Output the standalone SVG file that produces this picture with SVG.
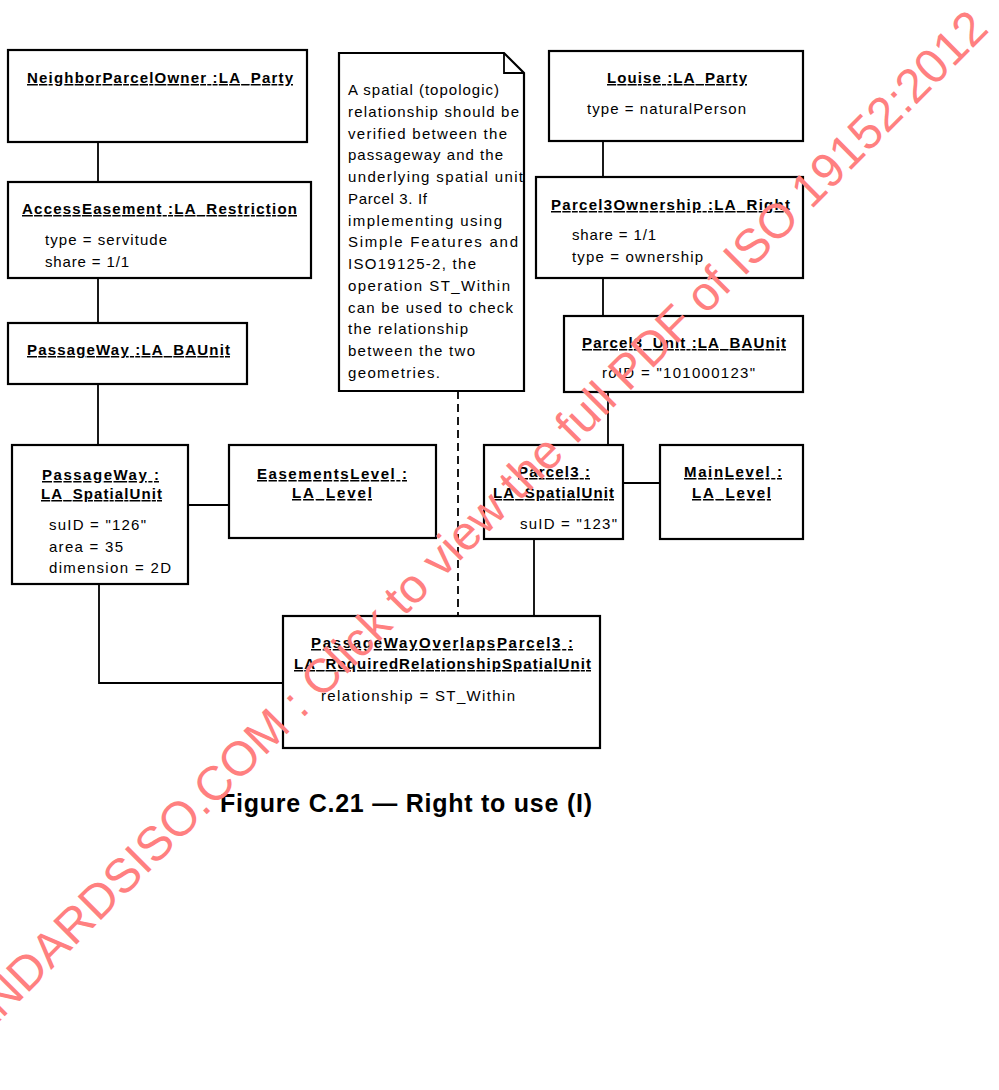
<svg xmlns="http://www.w3.org/2000/svg" width="999" height="1090" viewBox="0 0 999 1090">
<style>
  .box { fill: #ffffff; stroke: #000000; stroke-width: 2.2; }
  .conn { fill: none; stroke: #000000; stroke-width: 1.8; }
  .dash { fill: none; stroke: #000000; stroke-width: 1.8; stroke-dasharray: 8 5; }
  .t { font-family: "Liberation Sans", Arial, sans-serif; font-size: 15px; font-weight: bold; fill: #000000; text-decoration: underline; }
  .a { font-family: "Liberation Sans", Arial, sans-serif; font-size: 15px; fill: #000000; }
  .cap { font-family: "Liberation Sans", Arial, sans-serif; font-size: 25px; font-weight: bold; fill: #000000; }
  .wm { font-family: "Liberation Sans", Arial, sans-serif; font-size: 48px; fill: #ff8080; }
</style>
<rect x="0" y="0" width="999" height="1090" fill="#ffffff"/>

<g id="connectors">
  <line class="conn" x1="98" y1="142" x2="98" y2="182"/>
  <line class="conn" x1="98" y1="278" x2="98" y2="323"/>
  <line class="conn" x1="98" y1="384" x2="98" y2="445"/>
  <line class="conn" x1="188" y1="505" x2="229" y2="505"/>
  <polyline class="conn" points="99,584 99,683 283,683"/>
  <line class="dash" x1="458" y1="391" x2="458" y2="616"/>
  <line class="conn" x1="603" y1="141" x2="603" y2="177"/>
  <line class="conn" x1="603" y1="278" x2="603" y2="316"/>
  <line class="conn" x1="608" y1="392" x2="608" y2="445"/>
  <line class="conn" x1="623" y1="483" x2="660" y2="483"/>
  <line class="conn" x1="534" y1="539" x2="534" y2="616"/>
</g>

<g id="neighborParcelOwner">
  <rect class="box" x="8" y="50" width="299" height="92"/>
  <text class="t" x="27" y="83" textLength="266">NeighborParcelOwner :LA_Party</text>
</g>

<g id="accessEasement">
  <rect class="box" x="8" y="182" width="303" height="96"/>
  <text class="t" x="22" y="214" textLength="275">AccessEasement :LA_Restriction</text>
  <text class="a" x="45" y="245" textLength="122">type = servitude</text>
  <text class="a" x="45" y="267" textLength="84">share = 1/1</text>
</g>

<g id="passageWayBAUnit">
  <rect class="box" x="8" y="323" width="239" height="61"/>
  <text class="t" x="27" y="355" textLength="203">PassageWay :LA_BAUnit</text>
</g>

<g id="passageWaySpatialUnit">
  <rect class="box" x="12" y="445" width="176" height="139"/>
  <text class="t" x="42" y="480" textLength="117">PassageWay :</text>
  <text class="t" x="41" y="499" textLength="121">LA_SpatialUnit</text>
  <text class="a" x="49" y="530" textLength="97">suID = "126"</text>
  <text class="a" x="49" y="552" textLength="74">area = 35</text>
  <text class="a" x="49" y="573" textLength="122">dimension = 2D</text>
</g>

<g id="easementsLevel">
  <rect class="box" x="229" y="445" width="207" height="93"/>
  <text class="t" x="257" y="479" textLength="150">EasementsLevel :</text>
  <text class="t" x="292" y="498" textLength="80">LA_Level</text>
</g>

<g id="note">
  <path class="box" d="M339,53 L504,53 L524,73 L524,391 L339,391 Z"/>
  <path class="conn" d="M504,53 L504,73 L524,73"/>
  <text class="a" x="348" y="95" textLength="151">A spatial (topologic)</text>
  <text class="a" x="348" y="117" textLength="171">relationship should be</text>
  <text class="a" x="348" y="139" textLength="159">verified between the</text>
  <text class="a" x="348" y="160" textLength="155">passageway and the</text>
  <text class="a" x="348" y="182" textLength="175">underlying spatial unit</text>
  <text class="a" x="348" y="204" textLength="79">Parcel 3. If</text>
  <text class="a" x="348" y="226" textLength="154">implementing using</text>
  <text class="a" x="348" y="247" textLength="170">Simple Features and</text>
  <text class="a" x="348" y="269" textLength="128">ISO19125-2, the</text>
  <text class="a" x="348" y="291" textLength="162">operation ST_Within</text>
  <text class="a" x="348" y="313" textLength="165">can be used to check</text>
  <text class="a" x="348" y="334" textLength="120">the relationship</text>
  <text class="a" x="348" y="356" textLength="127">between the two</text>
  <text class="a" x="348" y="378" textLength="92">geometries.</text>
</g>

<g id="louise">
  <rect class="box" x="549" y="51" width="254" height="90"/>
  <text class="t" x="607" y="83" textLength="140">Louise :LA_Party</text>
  <text class="a" x="587" y="114" textLength="159">type = naturalPerson</text>
</g>

<g id="parcel3Ownership">
  <rect class="box" x="536" y="177" width="267" height="101"/>
  <text class="t" x="551" y="210" textLength="239">Parcel3Ownership :LA_Right</text>
  <text class="a" x="572" y="240" textLength="84">share = 1/1</text>
  <text class="a" x="572" y="262" textLength="131">type = ownership</text>
</g>

<g id="parcel3Unit">
  <rect class="box" x="564" y="316" width="239" height="76"/>
  <text class="t" x="582" y="348" textLength="204">Parcel3_Unit :LA_BAUnit</text>
  <text class="a" x="602" y="378" textLength="153">roID = "101000123"</text>
</g>

<g id="parcel3SpatialUnit">
  <rect class="box" x="484" y="445" width="139" height="94"/>
  <text class="t" x="518" y="477" textLength="72">Parcel3 :</text>
  <text class="t" x="493" y="498" textLength="121">LA_SpatialUnit</text>
  <text class="a" x="520" y="529" textLength="97">suID = "123"</text>
</g>

<g id="mainLevel">
  <rect class="box" x="660" y="445" width="143" height="94"/>
  <text class="t" x="684" y="477" textLength="98">MainLevel :</text>
  <text class="t" x="692" y="498" textLength="79">LA_Level</text>
</g>

<g id="passageWayOverlapsParcel3">
  <rect class="box" x="283" y="616" width="317" height="132"/>
  <text class="t" x="311" y="648" textLength="262">PassageWayOverlapsParcel3 :</text>
  <text class="t" x="294" y="669" textLength="297">LA_RequiredRelationshipSpatialUnit</text>
  <text class="a" x="321" y="701" textLength="194">relationship = ST_Within</text>
</g>

<text class="cap" x="220" y="812" textLength="372">Figure C.21 — Right to use (I)</text>

<text class="wm" x="-61.5" y="1082.5" transform="rotate(-45 -61.5 1082.5)">STANDARDSISO.COM : Click to view the full PDF of ISO 19152:2012</text>
</svg>
